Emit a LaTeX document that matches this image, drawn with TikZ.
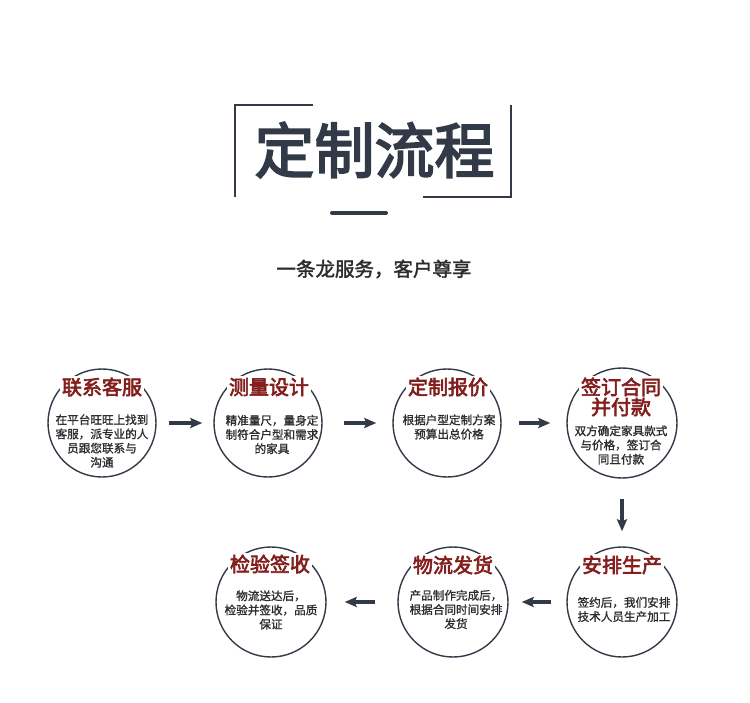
\documentclass[tikz,border=0pt]{standalone}
\usepackage{fontspec}
\setmainfont{Noto Sans CJK SC}
\newfontfamily\fbig[FakeBold=3]{Noto Sans CJK SC}
\newfontfamily\fmid[FakeBold=3]{Noto Sans CJK SC}
\newfontfamily\fsub[FakeBold=2]{Noto Sans CJK SC}
\newfontfamily\fsmall[FakeBold=1.2]{Noto Sans CJK SC}
\usetikzlibrary{arrows.meta}
\definecolor{ink}{RGB}{50,58,72}
\definecolor{txt}{RGB}{45,45,48}
\definecolor{titred}{RGB}{130,30,28}
\tikzset{
  stage/.style={circle, draw=ink, line width=1.4pt, minimum size=#1, inner sep=0pt},
  stage/.default=108pt,
  stitle/.style={fill=white, text=titred, font=\fontsize{20}{20}\selectfont\fmid, inner sep=2pt, align=center},
  sbody/.style={text=txt, font=\fontsize{11.6}{14.2}\selectfont\fsmall, align=center, inner sep=0pt},
  arr/.style={draw=ink, line width=3.5pt, -{Stealth[length=12pt,width=10pt,inset=2pt]}},
  frame/.style={draw=ink, line width=1.6pt},
}
\begin{document}
\begin{tikzpicture}[x=1pt,y=-1pt]
\useasboundingbox[fill=white] (0,0) rectangle (750,702);
% header
\coordinate (fl1) at (313,105);
\coordinate (fl2) at (235,105);
\coordinate (fl3) at (235,197);
\coordinate (fr1) at (511,105);
\coordinate (fr2) at (511,197);
\coordinate (fr3) at (423,197);
\draw[frame] (fl1) -- (fl2) -- (fl3);
\draw[frame] (fr1) -- (fr2) -- (fr3);
\node[text=ink, font=\fontsize{60}{60}\selectfont\fbig, inner sep=0pt] (title) at (374.5,150) {定制流程};
\coordinate (ub1) at (332,213);
\coordinate (ub2) at (386,213);
\draw[ink, line width=4pt, line cap=round] (ub1) -- (ub2);
\node[text=txt, font=\fontsize{19.5}{19.5}\selectfont\fsub, inner sep=0pt] (sub) at (374,269) {一条龙服务，客户尊享};
% circles
\node[stage] (c1) at (102,423) {};
\node[stage] (c2) at (268,423) {};
\node[stage] (c3) at (447,423) {};
\node[stage=110pt] (c4) at (622,423) {};
\node[stage=110pt] (c5) at (622,602) {};
\node[stage=110pt] (c6) at (453,602) {};
\node[stage=110pt] (c7) at (271,602) {};
% titles
\node[stitle] (t1) at (102,387) {联系客服};
\node[stitle] (t2) at (269,387) {测量设计};
\node[stitle] (t3) at (448,387) {定制报价};
\node[stitle] (t4) at (621,397) {签订合同\\并付款};
\node[stitle] (t5) at (622,565) {安排生产};
\node[stitle] (t6) at (453,565) {物流发货};
\node[stitle] (t7) at (270,564) {检验签收};
% bodies
\node[sbody] (b1) at (102,441) {在平台旺旺上找到\\客服，派专业的人\\员跟您联系与\\沟通};
\node[sbody] (b2) at (272,434.5) {精准量尺，量身定\\制符合户型和需求\\的家具};
\node[sbody] (b3) at (449,427) {根据户型定制方案\\预算出总价格};
\node[sbody] (b4) at (621,445) {双方确定家具款式\\与价格，签订合\\同且付款};
\node[sbody] (b5) at (624,609.5) {签约后，我们安排\\技术人员生产加工};
\node[sbody] (b6) at (456,609.5) {产品制作完成后，\\根据合同时间安排\\发货};
\node[sbody] (b7) at (271,610) {物流送达后，\\检验并签收，品质\\保证};
% arrows
\draw[arr, shorten <=12pt, shorten >=11pt] (c1) -- (c2);
\draw[arr, shorten <=21pt, shorten >=16pt] (c2) -- (c3);
\draw[arr, shorten <=17pt, shorten >=16pt] (c3) -- (c4);
\draw[arr, shorten <=20pt, shorten >=15pt] (c4) -- (c5);
\draw[arr, shorten <=15pt, shorten >=13pt] (c5) -- (c6);
\draw[arr, shorten <=22pt, shorten >=18pt] (c6) -- (c7);
\end{tikzpicture}
\end{document}
